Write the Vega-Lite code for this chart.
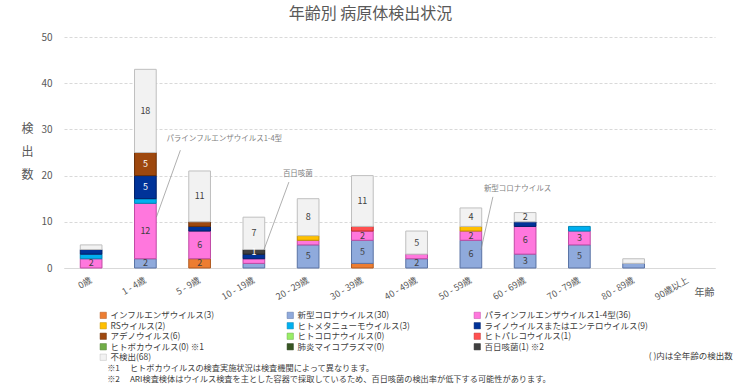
{
  "$schema": "https://vega.github.io/schema/vega-lite/v6.json",
  "width": 651,
  "height": 231,
  "autosize": "none",
  "padding": {"left": 64, "top": 37, "right": 26, "bottom": 122},
  "background": "white",
  "config": {
    "font": "Noto Sans CJK JP",
    "view": {"stroke": null},
    "axis": {"labelColor": "#595959", "titleColor": "#595959", "titleFontWeight": "normal"}
  },
  "title": {"text": "年齢別 病原体検出状況", "fontSize": 16, "fontWeight": "normal", "color": "#595959", "anchor": "middle", "frame": "group", "dx": -19, "offset": 10},
  "data": {"values": [
    {"age": "0歳", "pathogen": "パラインフルエンザウイルス1-4型(36)", "value": 2},
    {"age": "0歳", "pathogen": "ヒトメタニューモウイルス(3)", "value": 1},
    {"age": "0歳", "pathogen": "ライノウイルスまたはエンテロウイルス(9)", "value": 1},
    {"age": "0歳", "pathogen": "不検出(68)", "value": 1},
    {"age": "1 - 4歳", "pathogen": "新型コロナウイルス(30)", "value": 2},
    {"age": "1 - 4歳", "pathogen": "パラインフルエンザウイルス1-4型(36)", "value": 12},
    {"age": "1 - 4歳", "pathogen": "ヒトメタニューモウイルス(3)", "value": 1},
    {"age": "1 - 4歳", "pathogen": "ライノウイルスまたはエンテロウイルス(9)", "value": 5},
    {"age": "1 - 4歳", "pathogen": "アデノウイルス(6)", "value": 5},
    {"age": "1 - 4歳", "pathogen": "不検出(68)", "value": 18},
    {"age": "5 - 9歳", "pathogen": "インフルエンザウイルス(3)", "value": 2},
    {"age": "5 - 9歳", "pathogen": "パラインフルエンザウイルス1-4型(36)", "value": 6},
    {"age": "5 - 9歳", "pathogen": "ライノウイルスまたはエンテロウイルス(9)", "value": 1},
    {"age": "5 - 9歳", "pathogen": "アデノウイルス(6)", "value": 1},
    {"age": "5 - 9歳", "pathogen": "不検出(68)", "value": 11},
    {"age": "10 - 19歳", "pathogen": "新型コロナウイルス(30)", "value": 1},
    {"age": "10 - 19歳", "pathogen": "パラインフルエンザウイルス1-4型(36)", "value": 1},
    {"age": "10 - 19歳", "pathogen": "ライノウイルスまたはエンテロウイルス(9)", "value": 1},
    {"age": "10 - 19歳", "pathogen": "百日咳菌(1) ※2", "value": 1},
    {"age": "10 - 19歳", "pathogen": "不検出(68)", "value": 7},
    {"age": "20 - 29歳", "pathogen": "新型コロナウイルス(30)", "value": 5},
    {"age": "20 - 29歳", "pathogen": "パラインフルエンザウイルス1-4型(36)", "value": 1},
    {"age": "20 - 29歳", "pathogen": "RSウイルス(2)", "value": 1},
    {"age": "20 - 29歳", "pathogen": "不検出(68)", "value": 8},
    {"age": "30 - 39歳", "pathogen": "インフルエンザウイルス(3)", "value": 1},
    {"age": "30 - 39歳", "pathogen": "新型コロナウイルス(30)", "value": 5},
    {"age": "30 - 39歳", "pathogen": "パラインフルエンザウイルス1-4型(36)", "value": 2},
    {"age": "30 - 39歳", "pathogen": "ヒトパレコウイルス(1)", "value": 1},
    {"age": "30 - 39歳", "pathogen": "不検出(68)", "value": 11},
    {"age": "40 - 49歳", "pathogen": "新型コロナウイルス(30)", "value": 2},
    {"age": "40 - 49歳", "pathogen": "パラインフルエンザウイルス1-4型(36)", "value": 1},
    {"age": "40 - 49歳", "pathogen": "不検出(68)", "value": 5},
    {"age": "50 - 59歳", "pathogen": "新型コロナウイルス(30)", "value": 6},
    {"age": "50 - 59歳", "pathogen": "パラインフルエンザウイルス1-4型(36)", "value": 2},
    {"age": "50 - 59歳", "pathogen": "RSウイルス(2)", "value": 1},
    {"age": "50 - 59歳", "pathogen": "不検出(68)", "value": 4},
    {"age": "60 - 69歳", "pathogen": "新型コロナウイルス(30)", "value": 3},
    {"age": "60 - 69歳", "pathogen": "パラインフルエンザウイルス1-4型(36)", "value": 6},
    {"age": "60 - 69歳", "pathogen": "ライノウイルスまたはエンテロウイルス(9)", "value": 1},
    {"age": "60 - 69歳", "pathogen": "不検出(68)", "value": 2},
    {"age": "70 - 79歳", "pathogen": "新型コロナウイルス(30)", "value": 5},
    {"age": "70 - 79歳", "pathogen": "パラインフルエンザウイルス1-4型(36)", "value": 3},
    {"age": "70 - 79歳", "pathogen": "ヒトメタニューモウイルス(3)", "value": 1},
    {"age": "80 - 89歳", "pathogen": "新型コロナウイルス(30)", "value": 1},
    {"age": "80 - 89歳", "pathogen": "不検出(68)", "value": 1}
  ]},
  "layer": [
    {
      "transform": [{"stack": "value", "groupby": ["age"], "as": ["y0", "y1"]}],
      "mark": {"type": "bar", "strokeWidth": 1},
      "encoding": {
        "x": {"field": "age", "type": "nominal", "sort": null,
          "scale": {"domain": ["0歳", "1 - 4歳", "5 - 9歳", "10 - 19歳", "20 - 29歳", "30 - 39歳", "40 - 49歳", "50 - 59歳", "60 - 69歳", "70 - 79歳", "80 - 89歳", "90歳以上"], "paddingInner": 0.6, "paddingOuter": 0.3},
          "axis": {"title": "年齢", "titleFontSize": 10, "titleAngle": 0, "titleX": 630, "titleY": 24, "titleAlign": "left", "titleBaseline": "middle", "labelAngle": -30, "labelAlign": "right", "labelBaseline": "middle", "labelFontSize": 9, "labelPadding": 11, "ticks": false, "domainColor": "#d9d9d9", "grid": false}},
        "y": {"field": "y0", "type": "quantitative",
          "scale": {"domain": [0, 50]},
          "axis": {"title": ["検", "出", "数"], "titleFontSize": 12, "titleAngle": 0, "titleX": -37, "titleY": 86, "titleAlign": "center", "titleBaseline": "top", "titleLineHeight": 23, "values": [0,5,10,15,20,25,30,35,40,45,50], "labelFontSize": 10, "labelPadding": 12, "domain": false, "ticks": false, "gridColor": "#d9d9d9", "gridDash": [3, 2]}},
        "y2": {"field": "y1"},
        "fill": {"field": "pathogen", "type": "nominal",
          "scale": {
            "domain": ["インフルエンザウイルス(3)", "新型コロナウイルス(30)", "パラインフルエンザウイルス1-4型(36)", "RSウイルス(2)", "ヒトメタニューモウイルス(3)", "ライノウイルスまたはエンテロウイルス(9)", "アデノウイルス(6)", "ヒトコロナウイルス(0)", "ヒトパレコウイルス(1)", "ヒトボカウイルス(0) ※1", "肺炎マイコプラズマ(0)", "百日咳菌(1) ※2", "不検出(68)"],
            "range": ["#ED7D31", "#8FAADC", "#FF77DD", "#FFC000", "#00B0F0", "#003399", "#9E480E", "#99EE66", "#FF5050", "#70AD47", "#375623", "#404040", "#F2F2F2"]},
          "legend": {"title": null, "orient": "none", "legendX": 35, "legendY": 274, "direction": "horizontal", "columns": 3, "gridAlign": "all", "columnPadding": 12, "rowPadding": 1.5, "symbolType": "square", "symbolSize": 40, "symbolStrokeColor": "#a6a6a6", "symbolStrokeWidth": 0.5, "labelFontSize": 8.5, "labelColor": "#404040", "labelOffset": 3, "labelLimit": 300}},
        "stroke": {"field": "pathogen", "type": "nominal", "legend": null,
          "scale": {
            "domain": ["インフルエンザウイルス(3)", "新型コロナウイルス(30)", "パラインフルエンザウイルス1-4型(36)", "RSウイルス(2)", "ヒトメタニューモウイルス(3)", "ライノウイルスまたはエンテロウイルス(9)", "アデノウイルス(6)", "ヒトコロナウイルス(0)", "ヒトパレコウイルス(1)", "ヒトボカウイルス(0) ※1", "肺炎マイコプラズマ(0)", "百日咳菌(1) ※2", "不検出(68)"],
            "range": ["#b05a20", "#5a73a5", "#c04aa5", "#c09000", "#0085b5", "#001f66", "#6b3009", "#66aa44", "#c03030", "#4e7a31", "#253a17", "#262626", "#bfbfbf"]}}
      }
    },
    {
      "transform": [
        {"stack": "value", "groupby": ["age"], "as": ["y0", "y1"]},
        {"filter": "datum.value >= 2 || datum.pathogen == '百日咳菌(1) ※2'"},
        {"fold": ["y0", "y1"], "as": ["edge", "pos"]}
      ],
      "mark": {"type": "text", "fontSize": 9, "baseline": "middle"},
      "encoding": {
        "x": {"field": "age", "type": "nominal", "sort": null},
        "y": {"field": "pos", "type": "quantitative", "aggregate": "mean"},
        "detail": {"field": "pathogen", "type": "nominal"},
        "text": {"field": "value", "type": "quantitative", "aggregate": "max"},
        "color": {"condition": {"test": "indexof(['ライノウイルスまたはエンテロウイルス(9)','アデノウイルス(6)','百日咳菌(1) ※2'], datum.pathogen) >= 0", "value": "white"}, "value": "#404040"}
      }
    },
    {
      "data": {"values": [{}]},
      "mark": {"type": "text", "fontSize": 7.5, "color": "#7f7f7f", "align": "left", "baseline": "middle", "dx": 21},
      "encoding": {"x": {"datum": "1 - 4歳"}, "y": {"datum": 28}, "text": {"value": "パラインフルエンザウイルス1-4型"}}
    },
    {
      "data": {"values": [{}]},
      "mark": {"type": "rule", "color": "#8c8c8c", "strokeWidth": 0.7, "xOffset": 35, "x2Offset": 11},
      "encoding": {"x": {"datum": "1 - 4歳"}, "x2": {"datum": "1 - 4歳"}, "y": {"datum": 25.5}, "y2": {"datum": 11}}
    },
    {
      "data": {"values": [{}]},
      "mark": {"type": "text", "fontSize": 7.5, "color": "#7f7f7f", "align": "left", "baseline": "middle", "dx": 29},
      "encoding": {"x": {"datum": "10 - 19歳"}, "y": {"datum": 20.3}, "text": {"value": "百日咳菌"}}
    },
    {
      "data": {"values": [{}]},
      "mark": {"type": "rule", "color": "#8c8c8c", "strokeWidth": 0.7, "xOffset": 35, "x2Offset": 10},
      "encoding": {"x": {"datum": "10 - 19歳"}, "x2": {"datum": "10 - 19歳"}, "y": {"datum": 18.6}, "y2": {"datum": 3.9}}
    },
    {
      "data": {"values": [{}]},
      "mark": {"type": "text", "fontSize": 7.5, "color": "#7f7f7f", "align": "left", "baseline": "middle", "dx": 13},
      "encoding": {"x": {"datum": "50 - 59歳"}, "y": {"datum": 17.1}, "text": {"value": "新型コロナウイルス"}}
    },
    {
      "data": {"values": [{}]},
      "mark": {"type": "rule", "color": "#8c8c8c", "strokeWidth": 0.7, "xOffset": 22, "x2Offset": 10},
      "encoding": {"x": {"datum": "50 - 59歳"}, "x2": {"datum": "50 - 59歳"}, "y": {"datum": 15.4}, "y2": {"datum": 3.9}}
    },
    {
      "data": {"values": [{}]},
      "mark": {"type": "text", "fontSize": 8.5, "color": "#404040", "align": "right", "baseline": "middle", "dx": 45, "clip": false},
      "encoding": {"x": {"datum": "90歳以上"}, "y": {"datum": -19}, "text": {"value": "( )内は全年齢の検出数"}}
    },
    {
      "data": {"values": [{}]},
      "mark": {"type": "text", "fontSize": 8.2, "color": "#404040", "align": "left", "baseline": "middle", "dx": 16, "clip": false},
      "encoding": {"x": {"datum": "0歳"}, "y": {"datum": -21.9}, "text": {"value": "※1　 ヒトボカウイルスの検査実施状況は検査機関によって異なります。"}}
    },
    {
      "data": {"values": [{}]},
      "mark": {"type": "text", "fontSize": 8.2, "color": "#404040", "align": "left", "baseline": "middle", "dx": 16, "clip": false},
      "encoding": {"x": {"datum": "0歳"}, "y": {"datum": -24.2}, "text": {"value": "※2　 ARI検査検体はウイルス検査を主とした容器で採取しているため、百日咳菌の検出率が低下する可能性があります。"}}
    }
  ]
}
